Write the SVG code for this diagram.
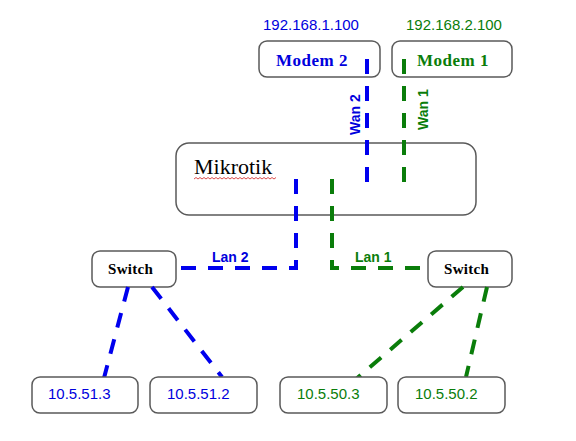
<svg xmlns="http://www.w3.org/2000/svg" width="576" height="441" viewBox="0 0 576 441">
<style>
.box{fill:#fff;stroke:#5a5a5a;stroke-width:1.5}
.b{stroke:#0000ee;stroke-width:4;stroke-dasharray:15 12;fill:none}
.g{stroke:#0a7d0a;stroke-width:4;stroke-dasharray:15 12;fill:none}
.ip{font-family:"Liberation Sans",Arial,sans-serif;font-size:15px}
.lbl{font-family:"Liberation Sans",Arial,sans-serif;font-size:14px;font-weight:bold}
.tb{fill:#0000dd}
.tg{fill:#0a7d0a}
.modem{font-family:"Liberation Serif","Times New Roman",serif;font-size:17px;font-weight:bold;letter-spacing:0.5px}
.sw{font-family:"Liberation Serif","Times New Roman",serif;font-size:15px;font-weight:bold;letter-spacing:0.3px;fill:#000}
</style>
<rect width="576" height="441" fill="#fff"/>
<g id="mikrotik">
<rect class="box" x="176" y="143" width="300" height="72" rx="13"/>
<text x="194" y="174" font-family="'Liberation Serif','Times New Roman',serif" font-size="22" fill="#000">Mikrotik</text>
<path d="M194 179 l2 -1.5 l2 1.5 l2 -1.5 l2 1.5 l2 -1.5 l2 1.5 l2 -1.5 l2 1.5 l2 -1.5 l2 1.5 l2 -1.5 l2 1.5 l2 -1.5 l2 1.5 l2 -1.5 l2 1.5 l2 -1.5 l2 1.5 l2 -1.5 l2 1.5 l2 -1.5 l2 1.5 l2 -1.5 l2 1.5 l2 -1.5 l2 1.5 l2 -1.5 l2 1.5 l2 -1.5 l2 1.5 l2 -1.5 l2 1.5 l2 -1.5 l2 1.5 l2 -1.5 l2 1.5 l2 -1.5 l2 1.5 l2 -1.5 l2 1.5 l2 -1.5" fill="none" stroke="#d02020" stroke-width="0.8"/>
</g>
<g id="modem2">
<rect class="box" x="259" y="41" width="121" height="36" rx="8"/>
<text class="modem tb" x="276" y="66">Modem 2</text>
<text class="ip tb" x="263" y="30">192.168.1.100</text>
</g>
<g id="modem1">
<rect class="box" x="392" y="41" width="120" height="36" rx="8"/>
<text class="modem tg" x="417" y="66">Modem 1</text>
<text class="ip tg" x="406" y="30">192.168.2.100</text>
</g>
<g id="switch-left">
<rect class="box" x="92" y="251" width="84" height="36" rx="8"/>
<text class="sw" x="108" y="274">Switch</text>
</g>
<g id="switch-right">
<rect class="box" x="428" y="251" width="84" height="36" rx="8"/>
<text class="sw" x="444" y="274">Switch</text>
</g>
<g id="connectors">
<path class="b" d="M367 59 V184"/>
<path class="g" d="M404 59 V184"/>
<path class="b" d="M296 179 V268 H177"/>
<path class="g" d="M332 179 V268 H427"/>
<path class="b" d="M128 287 L104 378"/>
<path class="b" d="M152 287 L222 377"/>
<path class="g" d="M463 287 L355 380"/>
<path class="g" d="M487 287 L466 377"/>
<text class="lbl tb" transform="translate(360 135) rotate(-90)">Wan 2</text>
<text class="lbl tg" transform="translate(428 130) rotate(-90)">Wan 1</text>
<text class="lbl tb" x="212" y="262">Lan 2</text>
<text class="lbl tg" x="355" y="262">Lan 1</text>
</g>
<g id="pc1">
<rect class="box" x="32" y="377" width="106" height="36" rx="8"/>
<text class="ip tb" x="48" y="399">10.5.51.3</text>
</g>
<g id="pc2">
<rect class="box" x="150" y="377" width="107" height="36" rx="8"/>
<text class="ip tb" x="167" y="399">10.5.51.2</text>
</g>
<g id="pc3">
<rect class="box" x="280" y="377" width="107" height="36" rx="8"/>
<text class="ip tg" x="297" y="399">10.5.50.3</text>
</g>
<g id="pc4">
<rect class="box" x="398" y="377" width="107" height="36" rx="8"/>
<text class="ip tg" x="415" y="399">10.5.50.2</text>
</g>
</svg>
